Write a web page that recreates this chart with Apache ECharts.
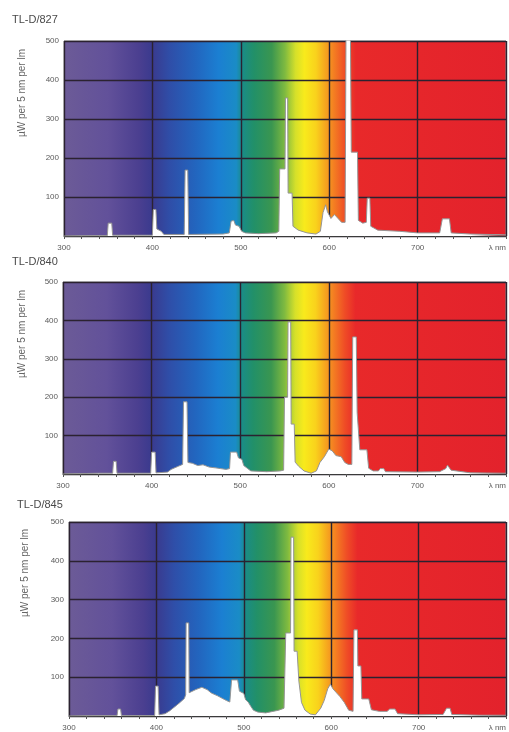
<!DOCTYPE html>
<html>
<head>
<meta charset="utf-8">
<title>TL-D spectra</title>
<script src="https://cdn.jsdelivr.net/npm/echarts@6/dist/echarts.min.js"></script>
<style>
    html, body { margin: 0; padding: 0; background: #fff; }
    #chart { width: 509px; height: 732px; }
</style>
</head>
<body>
<div id="chart"></div>
<script>
// Lamp names
const lampNames = ['TL-D/827', 'TL-D/840', 'TL-D/845'];

// X axis tick labels (nm), last one replaced by unit
const xTicks = [300, 400, 500, 600, 700, 800];
const yTicks = [100, 200, 300, 400, 500];

// TL-D/827 spectrum (µW per 5 nm per lm)
const wl827 = [300, 340, 349, 350, 354, 355, 395, 400, 401, 404, 405, 410, 413, 436, 437, 440, 441, 480, 487, 489,
    492, 494, 498, 501, 505, 520, 540, 543, 544, 550, 550.5, 553, 553.5, 558, 559, 565, 575, 585, 590, 593,
    596, 598, 602, 606, 610, 614, 618, 619, 624, 625, 632, 633, 638, 642, 643, 646, 647, 655, 680, 700,
    725, 728, 736, 738, 760, 800];
const val827 = [0, 1, 1, 33, 33, 2, 2, 2, 68, 68, 18, 12, 4, 4, 169, 169, 4, 5, 8, 38,
    40, 28, 25, 12, 8, 6, 8, 12, 172, 172, 354, 354, 110, 110, 25, 15, 8, 5, 12, 60,
    80, 62, 45, 55, 45, 35, 35, 520, 520, 215, 215, 40, 33, 35, 97, 97, 25, 15, 12, 8,
    8, 44, 44, 8, 5, 3];

// TL-D/840 spectrum
const wl840 = [300, 340, 356, 357, 360, 361, 399, 400, 404, 405, 418, 422, 430, 435, 436, 440, 441, 446, 452, 458,
    465, 472, 478, 484, 488, 489, 496, 498, 502, 504, 508, 512, 530, 545, 549, 550, 553.5, 554, 557, 557.5,
    561, 562, 566, 572, 580, 586, 590, 595, 600, 604, 608, 614, 618, 622, 626, 627, 631, 632, 634, 635,
    643, 645, 650, 656, 658, 662, 664, 700, 725, 732, 734, 738, 760, 800];
const val840 = [0, 2, 2, 33, 33, 2, 2, 57, 57, 3, 5, 12, 20, 25, 188, 188, 30, 28, 22, 24,
    18, 16, 14, 12, 14, 57, 57, 42, 38, 22, 15, 8, 6, 8, 10, 200, 200, 396, 396, 130,
    130, 31, 20, 8, 2, 8, 30, 45, 65, 60, 48, 45, 30, 25, 25, 357, 357, 160, 160, 63,
    63, 15, 8, 8, 14, 14, 6, 5, 6, 14, 23, 10, 3, 2];

// TL-D/845 spectrum
const wl845 = [300, 340, 355, 356, 359, 360, 398, 399, 402, 403, 410, 415, 420, 426, 432, 433.5, 434, 437, 437.5, 445,
    452, 458, 463, 470, 475, 480, 484, 486, 493, 495, 500, 502, 505, 508, 511, 516, 525, 540, 546, 548,
    553.5, 554, 557, 557.5, 561, 563, 566, 570, 576, 582, 588, 592, 596, 599, 602, 606, 610, 615, 620, 625,
    626, 630, 630.5, 634, 635, 643, 646, 655, 664, 667, 673, 676, 700, 728, 732, 736, 738, 770, 800];
const val845 = [0, 1, 1, 18, 18, 1, 1, 77, 77, 3, 6, 13, 22, 33, 45, 55, 240, 240, 60, 68,
    74, 68, 59, 52, 46, 40, 36, 93, 93, 64, 58, 42, 36, 25, 15, 10, 8, 15, 20, 214,
    214, 461, 461, 167, 167, 90, 35, 15, 5, 3, 20, 40, 70, 82, 70, 60, 50, 35, 15, 12,
    222, 222, 129, 129, 44, 44, 16, 12, 12, 18, 18, 6, 3, 4, 20, 20, 4, 2, 2];

document.addEventListener('DOMContentLoaded', function() {
    const chart = echarts.init(document.getElementById('chart'));

    const spectra = [
        wl827.map((w, i) => [w, val827[i]]),
        wl840.map((w, i) => [w, val840[i]]),
        wl845.map((w, i) => [w, val845[i]])
    ];

    // panel placement in the page
    const panels = [
        { left: 64, top: 41, width: 444, height: 195, titleX: 7, titleY: 9, nameX: 22, nameY: 93 },
        { left: 63, top: 282, width: 443, height: 192, titleX: 7, titleY: 251, nameX: 22, nameY: 334 },
        { left: 69, top: 522, width: 440, height: 194, titleX: 12, titleY: 494, nameX: 25, nameY: 573 }
    ];

    // visible spectrum behind each plot
    const rainbow = {
        type: 'linear', x: 0, y: 0, x2: 1, y2: 0,
        colorStops: [
            { offset: 0, color: '#6c5b97' },
            { offset: 0.1, color: '#62519a' },
            { offset: 0.17, color: '#4b3f90' },
            { offset: 0.2, color: '#3a3a8e' },
            { offset: 0.24, color: '#2f4ea8' },
            { offset: 0.3, color: '#2266bf' },
            { offset: 0.35, color: '#1b7fd2' },
            { offset: 0.39, color: '#1a8cc6' },
            { offset: 0.404, color: '#1a8c86' },
            { offset: 0.43, color: '#229068' },
            { offset: 0.47, color: '#3a9650' },
            { offset: 0.5, color: '#7fba40' },
            { offset: 0.524, color: '#d6e02a' },
            { offset: 0.544, color: '#f8ea1c' },
            { offset: 0.57, color: '#f9d21c' },
            { offset: 0.59, color: '#f6a81e' },
            { offset: 0.61, color: '#f47f22' },
            { offset: 0.636, color: '#ef4c26' },
            { offset: 0.66, color: '#e8292a' },
            { offset: 1, color: '#e3222c' }
        ]
    };

    const grids = [], xAxes = [], yAxes = [], series = [], titles = [], graphics = [];

    panels.forEach((p, i) => {
        grids.push({
            left: p.left, top: p.top, width: p.width, height: p.height,
            show: true, backgroundColor: rainbow, borderColor: '#8a8a8a', borderWidth: 1
        });
        xAxes.push({
            gridIndex: i, type: 'value', min: xTicks[0], max: xTicks[xTicks.length - 1], interval: 100,
            axisLine: { show: true, lineStyle: { color: '#3a3a3a', width: 1 } },
            axisTick: { show: true, length: 3, lineStyle: { color: '#555' } },
            minorTick: { show: true, splitNumber: 5, length: 3, lineStyle: { color: '#555' } },
            splitLine: { show: true, lineStyle: { color: '#2b2230', width: 1.4 } },
            axisLabel: {
                fontSize: 8, color: '#5a5a5a', margin: 8, fontFamily: 'Liberation Sans',
                alignMaxLabel: 'right',
                formatter: v => v === 800 ? 'λ nm' : String(v)
            }
        });
        yAxes.push({
            gridIndex: i, type: 'value', min: 0, max: yTicks[yTicks.length - 1], interval: 100,
            axisLine: { show: false },
            axisTick: { show: false },
            splitLine: { show: true, lineStyle: { color: '#2b2230', width: 1.4 } },
            axisLabel: {
                fontSize: 8, color: '#5a5a5a', margin: 5, fontFamily: 'Liberation Sans',
                formatter: v => v === 0 ? '' : String(v)
            }
        });
        series.push({
            type: 'line', xAxisIndex: i, yAxisIndex: i,
            data: spectra[i], symbol: 'none', clip: true,
            lineStyle: { color: '#959595', width: 1 },
            areaStyle: { color: '#ffffff', opacity: 1 },
            silent: true
        });
        titles.push({
            text: lampNames[i], left: p.titleX, top: p.titleY,
            textStyle: { fontSize: 11, fontWeight: 'normal', color: '#4a4a4a', fontFamily: 'Liberation Sans Narrow, Liberation Sans' }
        });
        graphics.push({
            type: 'text', x: p.nameX, y: p.nameY, rotation: Math.PI / 2,
            style: {
                text: 'µW per 5 nm per lm', fill: '#666', fontSize: 10,
                fontFamily: 'Liberation Sans', align: 'center', verticalAlign: 'middle'
            }
        });
    });

    const option = {
        animation: false,
        backgroundColor: '#ffffff',
        title: titles,
        grid: grids,
        xAxis: xAxes,
        yAxis: yAxes,
        series: series,
        graphic: graphics
    };
    chart.setOption(option);
});
</script>
</body>
</html>
